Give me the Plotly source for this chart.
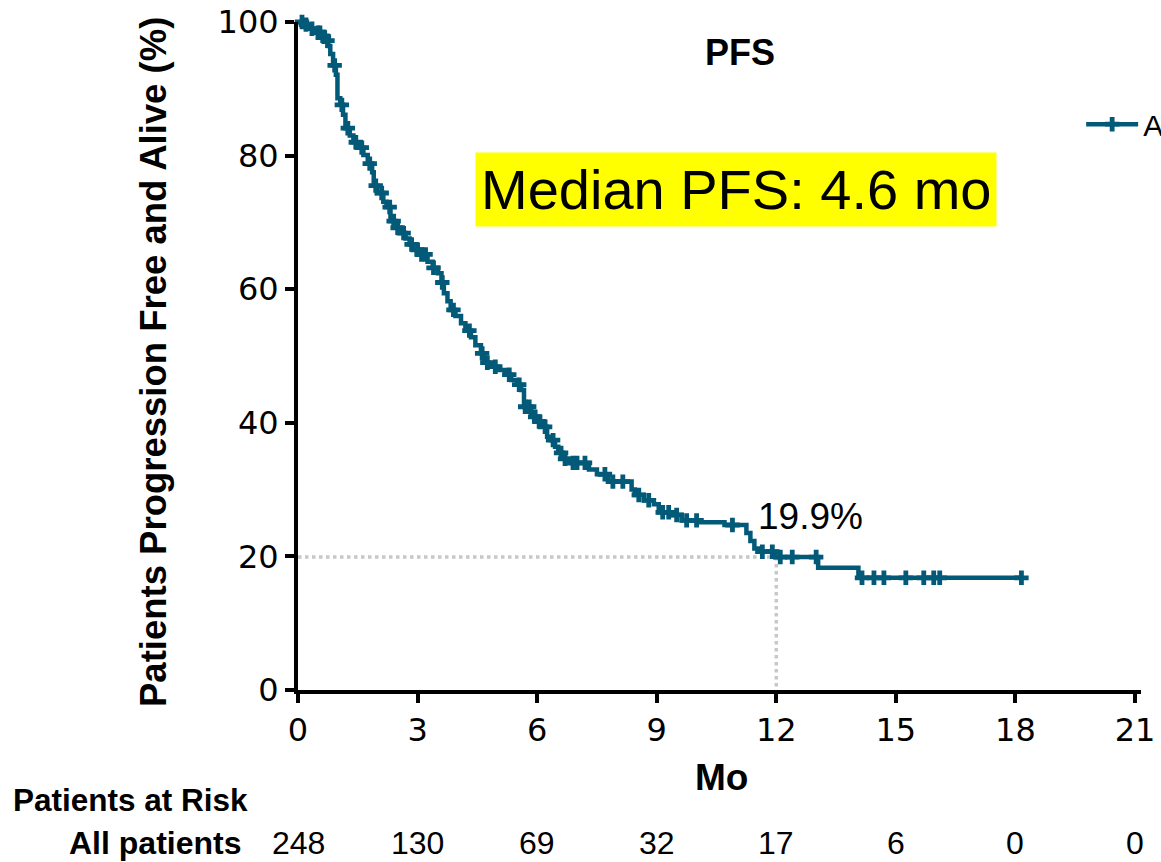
import bisect
import plotly.graph_objects as go

# Kaplan-Meier step function: event times (months) and survival after each step (%)
event_months = [0, 0.15, 0.30, 0.45, 0.60, 0.70, 0.76, 0.81, 0.88, 0.95, 0.99, 1.06, 1.13, 1.19,
                1.30, 1.39, 1.50, 1.64, 1.75, 1.86, 1.90, 1.99, 2.14, 2.22, 2.32, 2.45, 2.57,
                2.70, 2.80, 2.90, 3.05, 3.25, 3.38, 3.51, 3.60, 3.66, 3.75, 3.83, 3.95, 4.09,
                4.20, 4.34, 4.45, 4.59, 4.67, 4.80, 5.02, 5.20, 5.35, 5.50, 5.60, 5.67, 5.85,
                6.00, 6.10, 6.25, 6.36, 6.45, 6.53, 6.65, 6.78, 7.30, 7.50, 7.79, 8.37, 8.45,
                8.68, 8.93, 9.05, 9.38, 9.63, 10.06, 10.70, 11.25, 11.35, 11.45, 11.55, 11.98,
                13.05, 14.06]
survival_pct = [100, 99.6, 99.0, 98.4, 97.8, 97.2, 96.4, 95.2, 93.5, 92.1, 88.6, 87.6, 86.1, 84.1,
                83.0, 82.0, 81.2, 80.1, 78.8, 77.5, 75.5, 74.4, 73.1, 72.3, 70.2, 69.2, 68.4,
                67.6, 66.7, 65.9, 65.2, 64.1, 63.2, 62.4, 61.0, 59.4, 58.2, 56.9, 56.0, 54.9,
                53.8, 52.8, 51.6, 50.4, 49.0, 48.4, 47.9, 47.2, 46.4, 45.7, 44.9, 42.4, 40.9,
                40.2, 39.4, 37.9, 37.4, 36.4, 35.5, 34.6, 34.0, 33.0, 32.3, 31.2, 30.0, 29.2,
                28.4, 27.8, 26.6, 26.2, 25.4, 25.1, 24.7, 23.5, 22.3, 21.2, 20.7, 19.9,
                18.3, 16.8]
last_followup = 18.15

# Censored observations (months)
censor_months = [0.10, 0.20, 0.35, 0.50, 0.55, 0.65, 0.74, 0.92, 1.10, 1.25, 1.45, 1.60, 1.80,
                 1.95, 2.10, 2.30, 2.40, 2.50, 2.65, 2.85, 3.00, 3.10, 3.20, 3.40, 3.62, 3.90,
                 4.30, 4.62, 4.75, 4.95, 5.30, 5.55, 5.70, 5.80, 5.95, 6.05, 6.20, 6.40, 6.60,
                 6.70, 6.90, 7.00, 7.20, 7.70, 7.90, 8.15, 8.55, 8.80, 9.15, 9.30, 9.50, 9.75,
                 10.00, 10.90, 11.65, 11.90, 12.10, 12.40, 13.00, 14.15, 14.45, 14.70, 15.25,
                 15.70, 15.95, 16.10, 18.15]

# Risk table
risk_months = [0, 3, 6, 9, 12, 15, 18, 21]
at_risk_all = [248, 130, 69, 32, 17, 6, 0, 0]

x_ticks = [0, 3, 6, 9, 12, 15, 18, 21]
y_ticks = [0, 20, 40, 60, 80, 100]

landmark_month = 12
landmark_pct = 19.9
median_pfs = 4.6

COLOR = "#035A78"
TICK_FONT = "DejaVu Sans"
TEXT_FONT = "Liberation Sans, Arial, sans-serif"


def surv_at(t):
    i = bisect.bisect_right(event_months, t) - 1
    return survival_pct[max(i, 0)]


line_x = event_months + [last_followup]
line_y = survival_pct + [survival_pct[-1]]

fig = go.Figure()

# Landmark reference lines
fig.add_trace(go.Scatter(x=[0, landmark_month], y=[landmark_pct, landmark_pct], mode="lines",
                         line=dict(color="#C8C8C8", width=3.5, dash="dot"),
                         showlegend=False, hoverinfo="skip"))
fig.add_trace(go.Scatter(x=[landmark_month, landmark_month], y=[landmark_pct, 0], mode="lines",
                         line=dict(color="#C8C8C8", width=3.5, dash="dot"),
                         showlegend=False, hoverinfo="skip"))

# Survival curve
fig.add_trace(go.Scatter(x=line_x, y=line_y, mode="lines", line_shape="hv",
                         line=dict(color=COLOR, width=4.5), showlegend=False,
                         cliponaxis=False))
# Censor marks
fig.add_trace(go.Scatter(x=censor_months, y=[surv_at(t) for t in censor_months],
                         mode="markers", showlegend=False,
                         marker=dict(symbol="cross", size=12, color=COLOR),
                         cliponaxis=False))
# Legend entry: line with a censor cross
fig.add_trace(go.Scatter(x=[None], y=[None], mode="lines+markers", name="All patients",
                         line=dict(color=COLOR, width=4.5),
                         marker=dict(symbol="cross", size=12, color=COLOR)))


def note(text, x, y, size, xref="paper", yref="paper", xanchor="center", **kw):
    return dict(text=text, xref=xref, yref=yref, x=x, y=y, xanchor=xanchor, yanchor="middle",
                showarrow=False, font=dict(family=TEXT_FONT, size=size, color="black"), **kw)


annotations = [
    note("<b>PFS</b>", 0.5244, 0.955, 36),
    note("Median PFS: %.1f mo" % median_pfs, 0.5196, 0.749, 56, bgcolor="#FFFF00", borderpad=5),
    note("%.1f%%" % landmark_pct, 11.5, 26.0, 37, xref="x", yref="y", xanchor="left"),
    note("<b>Patients Progression Free and Alive (%)</b>", -0.172, 0.491, 36.5, textangle=-90),
    note("<b>Mo</b>", 0.502, -0.1317, 37),
    note("<b>Patients at Risk</b>", -0.341, -0.1647, 31.5, xanchor="left"),
    note("<b>All patients</b>", -0.0654, -0.229, 32, xanchor="right"),
]
for m, n in zip(risk_months, at_risk_all):
    annotations.append(note(str(n), m, -0.229, 32, xref="x"))

fig.update_layout(
    width=1161, height=862, autosize=False,
    margin=dict(l=298, r=20, t=22, b=172, autoexpand=False),
    paper_bgcolor="white", plot_bgcolor="white",
    annotations=annotations,
    showlegend=True,
    legend=dict(x=0.9290, y=0.847, xanchor="left", yanchor="middle", itemwidth=52,
                bgcolor="rgba(0,0,0,0)",
                font=dict(family=TEXT_FONT, size=30, color="black")),
    xaxis=dict(range=[0, 21.15], tickvals=x_ticks, ticks="outside", ticklen=9, tickwidth=3.5,
               tickcolor="black", showline=True, linewidth=4, linecolor="black",
               showgrid=False, zeroline=False,
               tickfont=dict(family=TICK_FONT, size=32, color="black")),
    yaxis=dict(range=[0, 100], tickvals=y_ticks, ticks="outside", ticklen=9, tickwidth=3.5,
               tickcolor="black", showline=True, linewidth=4, linecolor="black",
               showgrid=False, zeroline=False,
               tickfont=dict(family=TICK_FONT, size=32, color="black")),
)

fig.write_html("out.html")
